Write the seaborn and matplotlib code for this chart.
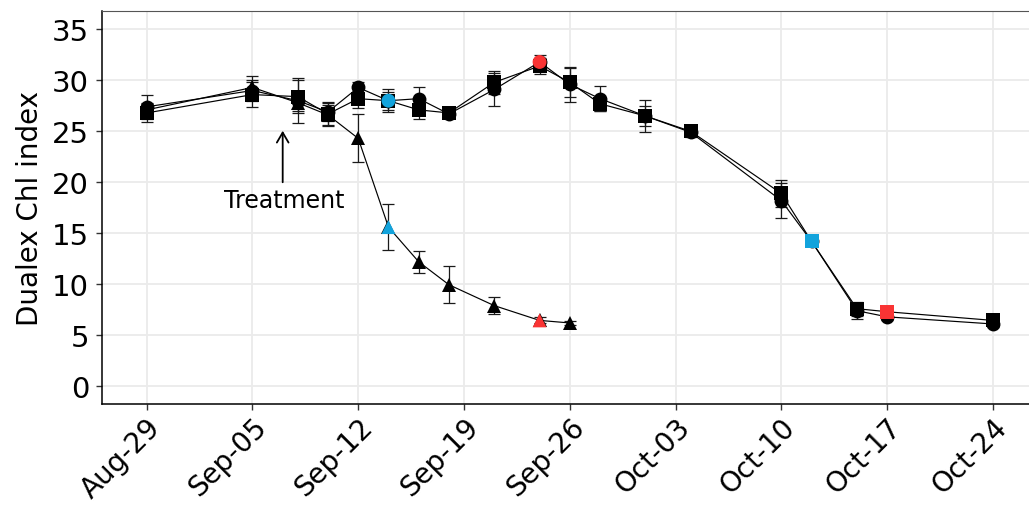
import pandas as pd
import matplotlib
matplotlib.use("Agg")
import matplotlib.pyplot as plt
import matplotlib.dates as mdates
import seaborn as sns

# ---- data ----
dates_all = ["2019-08-29", "2019-09-05", "2019-09-08", "2019-09-10", "2019-09-12",
             "2019-09-14", "2019-09-16", "2019-09-18", "2019-09-21", "2019-09-24",
             "2019-09-26", "2019-09-28", "2019-10-01", "2019-10-04", "2019-10-10",
             "2019-10-12", "2019-10-15", "2019-10-17", "2019-10-24"]
circle_vals = [27.4, 29.0, 28.0, 26.9, 29.3, 28.0, 28.2, 26.7, 29.1, 31.8,
               29.6, 28.2, 26.5, 24.9, 18.2, 14.2, 7.4, 6.8, 6.1]
circle_sd = [1.2, 1.0, 2.2, 0.9, 0.5, 1.1, 1.1, 0.4, 1.6, 0.7,
             1.7, 1.2, 1.6, 0.5, 1.7, 0.3, 0.8, 0.3, 0.3]
square_vals = [26.8, 28.6, 28.4, 26.7, 28.2, 28.0, 27.1, 26.8, 29.8, 31.4,
               29.8, 27.7, 26.5, 25.0, 18.9, 14.2, 7.6, 7.3, 6.45]
square_sd = [0.9, 1.2, 1.6, 1.2, 0.9, 0.9, 0.9, 0.3, 1.1, 0.8,
             1.4, 0.7, 1.0, 0.4, 1.3, 0.3, 0.7, 0.3, 0.3]
tri_dates = dates_all[:11]
tri_vals = [27.1, 29.3, 27.8, 26.6, 24.3, 15.6, 12.2, 9.95, 7.9, 6.45, 6.2]
tri_sd = [0.7, 1.1, 0.8, 1.0, 2.35, 2.25, 1.1, 1.8, 0.8, 0.3, 0.2]

# highlighted sampling dates (blue / red points)
blue_days = {"circle": "2019-09-14", "triangle": "2019-09-14", "square": "2019-10-12"}
red_days = {"circle": "2019-09-24", "triangle": "2019-09-24", "square": "2019-10-17"}

x_ticks = pd.date_range("2019-08-29", "2019-10-24", freq="7D")
y_ticks = [0, 5, 10, 15, 20, 25, 30, 35]

# ---- build table ----
frames = []
for name, d, v, s in [("circle", dates_all, circle_vals, circle_sd),
                      ("square", dates_all, square_vals, square_sd),
                      ("triangle", tri_dates, tri_vals, tri_sd)]:
    frames.append(pd.DataFrame({"date": pd.to_datetime(d), "chl": v, "sd": s, "group": name}))
df = pd.concat(frames, ignore_index=True)

hl = []
for colour, days in [("blue", blue_days), ("red", red_days)]:
    for g, d in days.items():
        row = df[(df.group == g) & (df.date == pd.Timestamp(d))].copy()
        row["colour"] = colour
        hl.append(row)
hl_df = pd.concat(hl, ignore_index=True)

marker_map = {"circle": "o", "square": "s", "triangle": "^"}
colour_map = {"blue": "#12A3DC", "red": "#F93434"}

# ---- plot ----
sns.set_style("whitegrid", {"grid.color": "#EBEBEB", "axes.edgecolor": "black",
                            "text.color": "black", "axes.labelcolor": "black",
                            "xtick.color": "black", "ytick.color": "black"})
plt.rcParams["font.family"] = ["DejaVu Sans"]

fig = plt.figure(figsize=(10.29, 5.06), dpi=100)
ax = fig.add_axes([0.0988, 0.1996, 0.9012, 0.7757])

for g, sub in df.groupby("group"):
    ax.errorbar(sub["date"], sub["chl"], yerr=sub["sd"], fmt="none", ecolor="#1a1a1a",
                elinewidth=0.9, capsize=4, capthick=0.9, zorder=2)

sns.lineplot(data=df, x="date", y="chl", style="group", markers=marker_map, dashes=False,
             color="black", markersize=10, markeredgewidth=0, linewidth=0.85,
             estimator=None, legend=False, ax=ax, zorder=3)

sns.scatterplot(data=hl_df, x="date", y="chl", hue="colour", palette=colour_map,
                style="group", markers=marker_map, s=100, linewidth=0,
                legend=False, ax=ax, zorder=4)

# treatment arrow
t_day = pd.Timestamp("2019-09-07")
ax.annotate("", xy=(t_day, 25.05), xytext=(t_day, 20.0),
            arrowprops=dict(arrowstyle="->,head_length=0.6,head_width=0.35",
                            lw=1.3, color="black", mutation_scale=12,
                            shrinkA=0, shrinkB=0))
ax.text(t_day + pd.Timedelta(hours=3), 18.3, "Treatment", ha="center", va="center",
        fontsize=17, color="black")

base = pd.Timestamp("2019-08-29")
ax.set_xlim(base - pd.Timedelta(days=2.98), base + pd.Timedelta(days=58.39))
ax.set_ylim(-1.75, 36.75)
ax.set_xticks(x_ticks)
ax.xaxis.set_major_formatter(mdates.DateFormatter("%b-%d"))
ax.set_yticks(y_ticks)

ax.grid(True, color="#EBEBEB", linewidth=1.3)
ax.set_axisbelow(True)
for side in ["left", "bottom"]:
    ax.spines[side].set_color("black")
    ax.spines[side].set_linewidth(1.1)
ax.spines["top"].set_color("#555555")
ax.spines["top"].set_linewidth(0.8)
ax.spines["right"].set_visible(False)

ax.tick_params(axis="both", length=4, width=1.0, color="#333333",
               labelcolor="black", direction="out", left=True, bottom=True)
ax.tick_params(axis="y", pad=5, labelsize=21)
ax.tick_params(axis="x", pad=2, labelsize=20)
plt.setp(ax.get_xticklabels(), rotation=45, ha="right", va="top", rotation_mode="anchor")
ax.set_xlabel("")
ax.set_ylabel("Dualex Chl index", fontsize=20, labelpad=6, color="black")

plt.savefig("out.png", dpi=100)
